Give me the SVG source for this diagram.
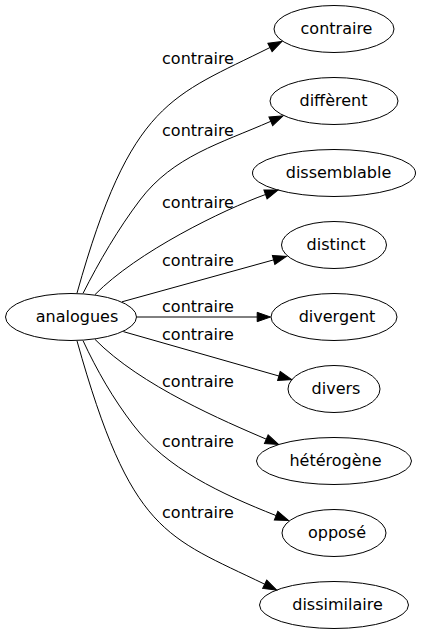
<svg xmlns="http://www.w3.org/2000/svg" width="421" height="635" viewBox="0 0 421 635">
<style>
.node ellipse{fill:none;stroke:#000;stroke-width:1}
.node text{font-family:"DejaVu Sans",sans-serif;font-size:16px;fill:#000;text-anchor:middle}
.edge path{fill:none;stroke:#000;stroke-width:1;marker-end:url(#arr)}
.edge text{font-family:"DejaVu Sans",sans-serif;font-size:16px;fill:#000;text-anchor:middle}
</style>
<defs>
<marker id="arr" markerUnits="userSpaceOnUse" markerWidth="14" markerHeight="10" viewBox="0 -5 14 10" refX="0" refY="0" orient="auto" overflow="visible">
<path d="M0,-4.67 L13.3,0 L0,4.67 Z" fill="#000" stroke="#000" stroke-width="1"/>
</marker>
</defs>
<rect width="421" height="635" fill="#fff"/>
<g id="edges" class="edge">
<path d="M77,293.1 C131,100.5 171.7,96.7 270,47.5"/>
<text x="198" y="64">contraire</text>
<path d="M83,293.4 C99.2,261.3 118.3,228.7 140,200 C173.2,156.2 220.4,143.4 270.8,121.3"/>
<text x="198" y="136">contraire</text>
<path d="M95,294.6 C137,251.8 223.2,209.8 265.5,194.5"/>
<text x="198" y="208">contraire</text>
<path d="M122,301.8 L273.6,259.9"/>
<text x="198" y="266">contraire</text>
<path d="M137,317 L257.2,317"/>
<text x="198" y="312">contraire</text>
<path d="M123.3,331.6 L278.9,376"/>
<text x="198" y="340">contraire</text>
<path d="M95,339.4 C140.5,385.8 225,421.4 266.3,439.2"/>
<text x="198" y="387">contraire</text>
<path d="M83,340.6 C96.9,370.5 113.2,398.8 133.3,425 C166.7,468.7 220.3,493.4 276.1,515.6"/>
<text x="198" y="447">contraire</text>
<path d="M77,340.9 C131,533.5 165.7,536.3 264.7,584.2"/>
<text x="198" y="518">contraire</text>
</g>
<g id="node-analogues" class="node"><ellipse cx="71" cy="317" rx="65.5" ry="23.5"/><text x="77" y="322.3">analogues</text></g>
<g id="node-contraire" class="node"><ellipse cx="334" cy="29" rx="60" ry="23.5"/><text x="336.5" y="34.3">contraire</text></g>
<g id="node-different" class="node"><ellipse cx="334" cy="101" rx="64" ry="23.5"/><text x="333.5" y="106.3">diffèrent</text></g>
<g id="node-dissemblable" class="node"><ellipse cx="334" cy="173" rx="81.5" ry="23.5"/><text x="338.5" y="178.3">dissemblable</text></g>
<g id="node-distinct" class="node"><ellipse cx="334" cy="245" rx="52.5" ry="23.5"/><text x="336" y="250.3">distinct</text></g>
<g id="node-divergent" class="node"><ellipse cx="334" cy="317" rx="63" ry="23.5"/><text x="337" y="322.3">divergent</text></g>
<g id="node-divers" class="node"><ellipse cx="334" cy="389" rx="46" ry="23.5"/><text x="336" y="394.3">divers</text></g>
<g id="node-heterogene" class="node"><ellipse cx="334" cy="461" rx="77.5" ry="23.5"/><text x="335.5" y="466.3">hétérogène</text></g>
<g id="node-oppose" class="node"><ellipse cx="334" cy="533" rx="52" ry="23.5"/><text x="337" y="538.3">opposé</text></g>
<g id="node-dissimilaire" class="node"><ellipse cx="334" cy="605" rx="74.5" ry="23.5"/><text x="337.5" y="610.3">dissimilaire</text></g>
</svg>
